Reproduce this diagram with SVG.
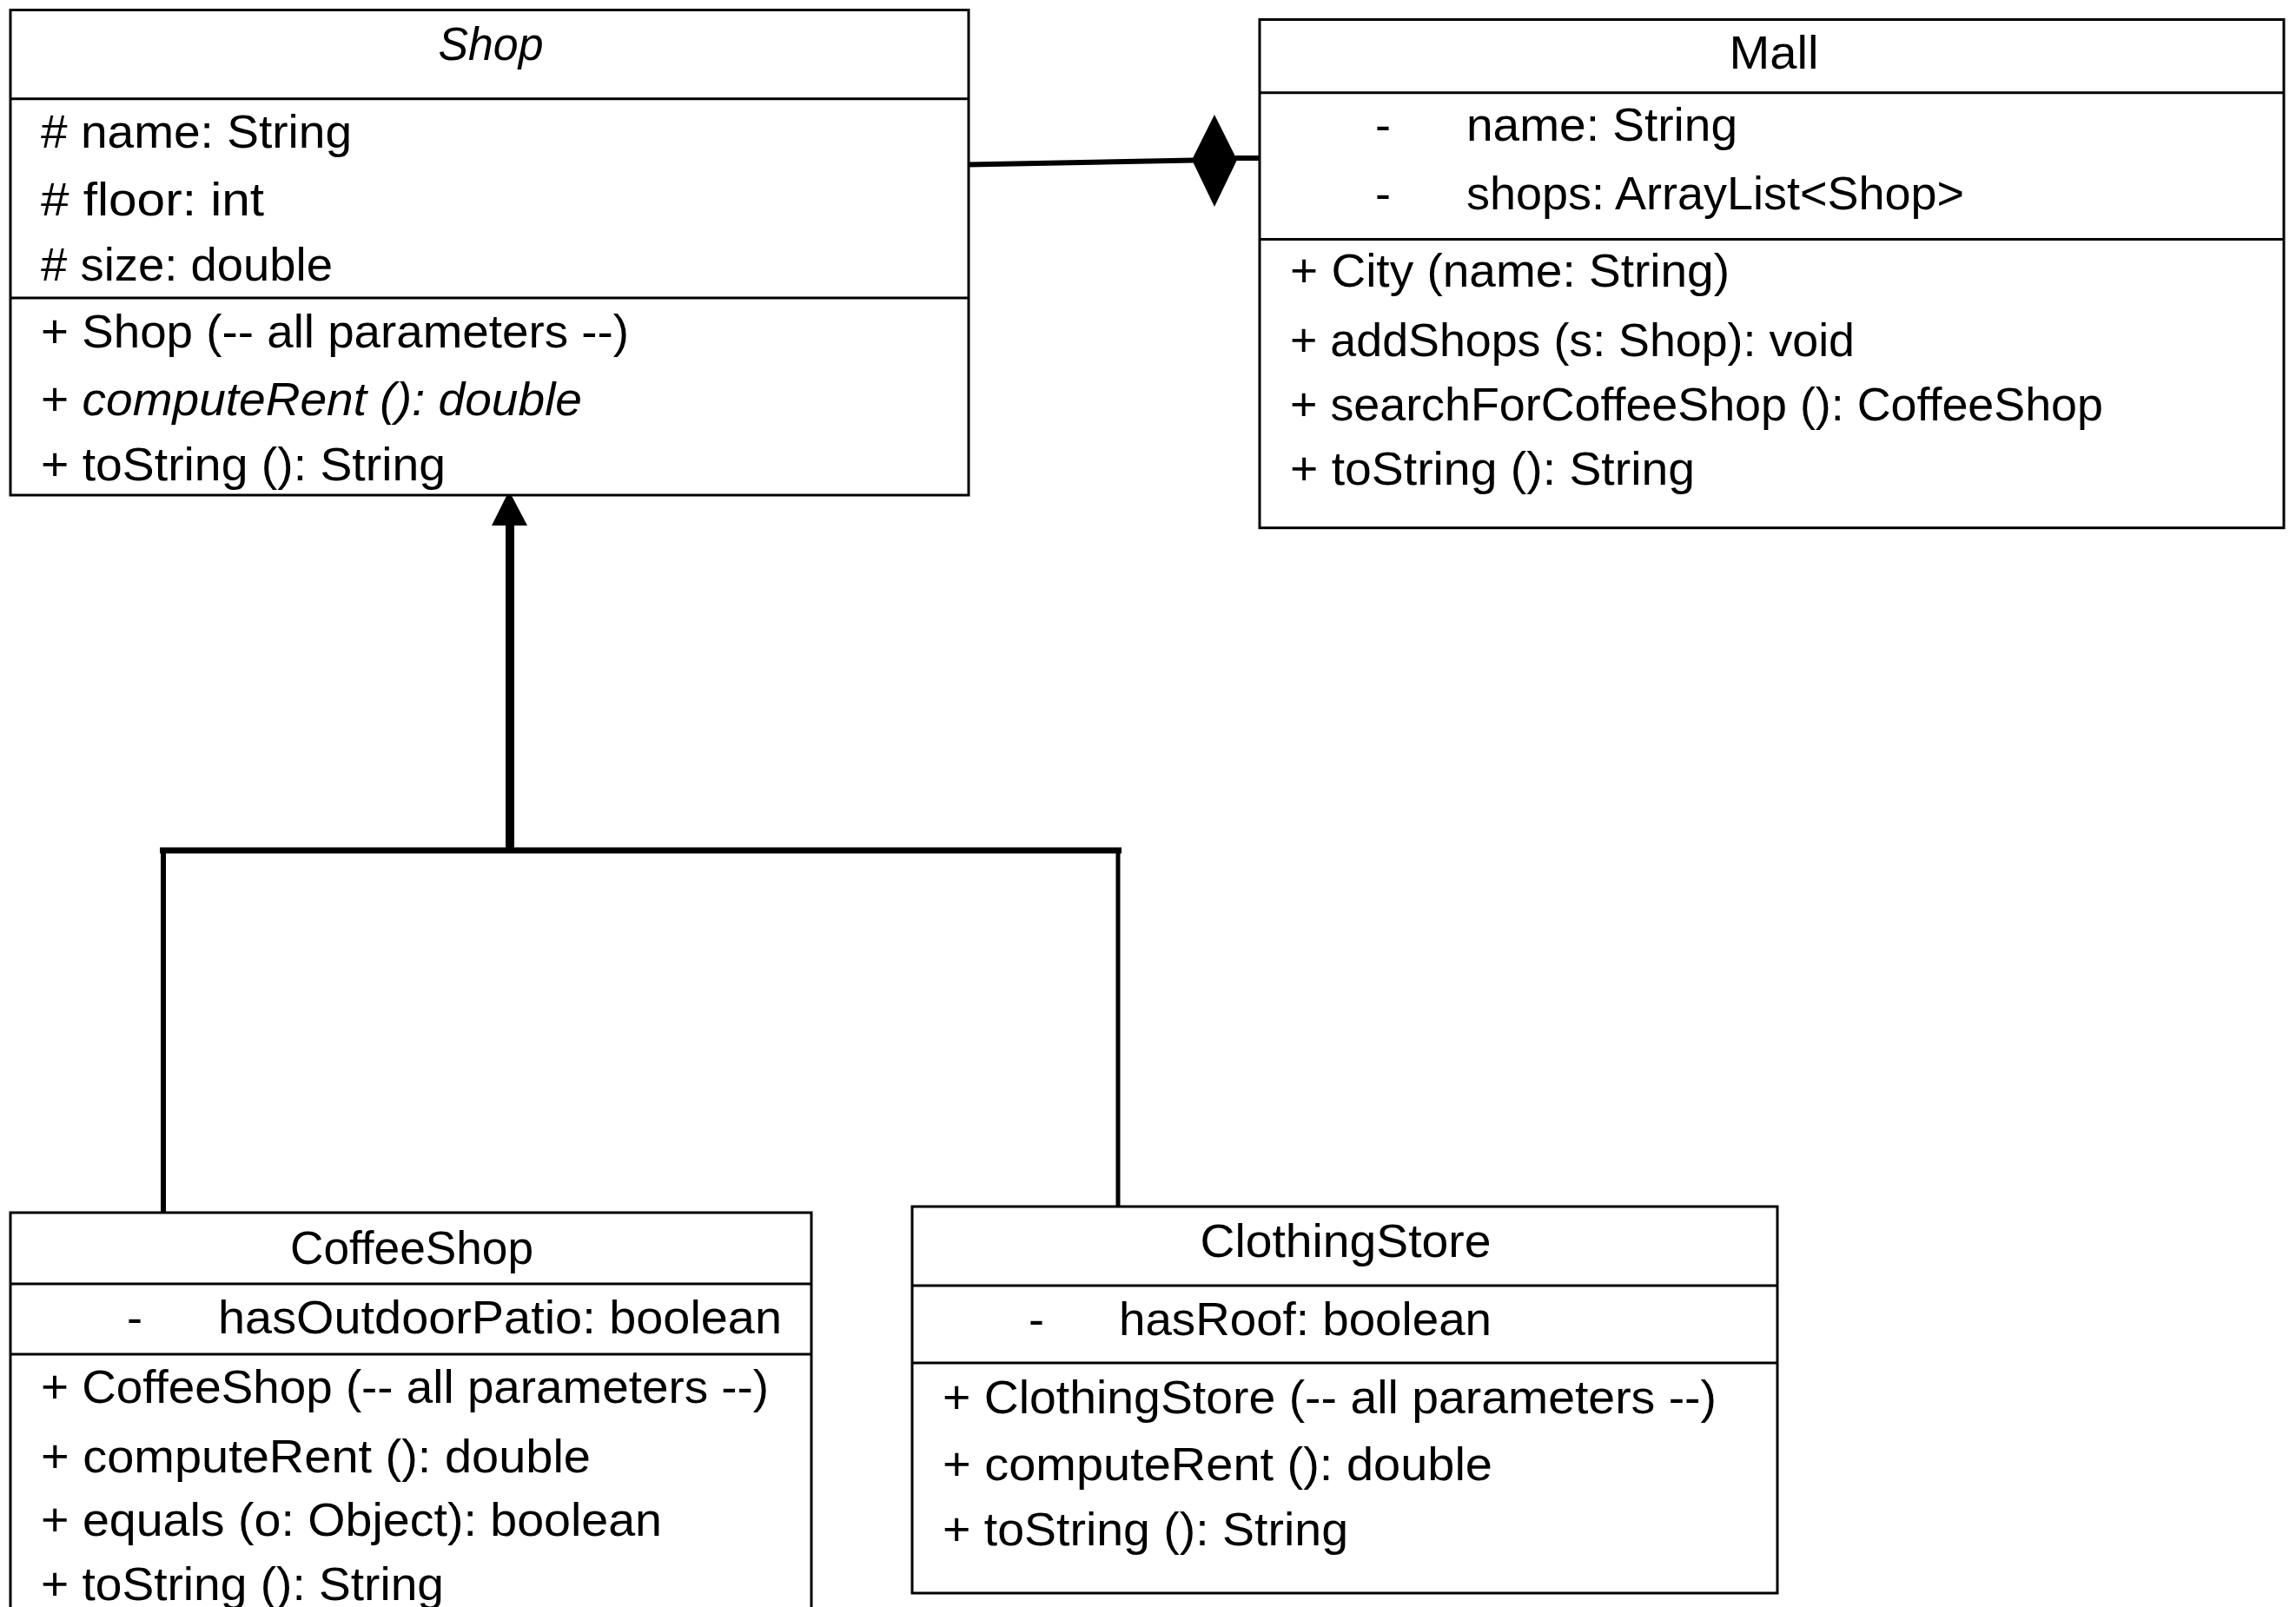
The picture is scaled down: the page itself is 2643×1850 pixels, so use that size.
<svg xmlns="http://www.w3.org/2000/svg" width="2643" height="1850" viewBox="0 0 2643 1850">
<style>
  .box { fill: #ffffff; stroke: #000000; stroke-width: 3; }
  .sep { stroke: #000000; stroke-width: 3; }
  text { font-family: "Liberation Sans", Arial, sans-serif; font-size: 54px; fill: #000000; }
  .title { text-anchor: middle; }
  .it { font-style: italic; }
  .conn { fill: none; stroke: #000000; stroke-linecap: butt; }
</style>
<rect x="0" y="0" width="2643" height="1850" fill="#ffffff"/>

<g id="connectors">
  <!-- composition Shop - Mall -->
  <line class="conn" x1="1115" y1="189.5" x2="1374" y2="184.5" stroke-width="6"/>
  <polygon points="1372,184 1398,132 1424,184 1398,238" fill="#000000"/>
  <line class="conn" x1="1422" y1="182" x2="1450" y2="182" stroke-width="6"/>
  <!-- inheritance -->
  <polygon points="586,565 566,605 607,605" fill="#000000"/>
  <line class="conn" x1="587" y1="603" x2="587" y2="982" stroke-width="10"/>
  <line class="conn" x1="184" y1="979" x2="1291" y2="979" stroke-width="7"/>
  <line class="conn" x1="188" y1="979" x2="188" y2="1396" stroke-width="6"/>
  <line class="conn" x1="1287" y1="979" x2="1287" y2="1389" stroke-width="5"/>
</g>

<g id="Shop">
  <rect class="box" x="12" y="11.5" width="1103" height="558.5"/>
  <line class="sep" x1="12" y1="113.7" x2="1115" y2="113.7"/>
  <line class="sep" x1="12" y1="343" x2="1115" y2="343"/>
  <text class="title it" x="565" y="69" textLength="121" lengthAdjust="spacingAndGlyphs">Shop</text>
  <text x="47" y="170" textLength="358" lengthAdjust="spacingAndGlyphs"># name: String</text>
  <text x="47" y="248" textLength="257" lengthAdjust="spacingAndGlyphs"># floor: int</text>
  <text x="47" y="323" textLength="336" lengthAdjust="spacingAndGlyphs"># size: double</text>
  <text x="47" y="400" textLength="677" lengthAdjust="spacingAndGlyphs">+ Shop (-- all parameters --)</text>
  <text x="47" y="478" textLength="623" lengthAdjust="spacingAndGlyphs">+ <tspan class="it">computeRent (): double</tspan></text>
  <text x="47" y="553" textLength="466" lengthAdjust="spacingAndGlyphs">+ toString (): String</text>
</g>

<g id="Mall">
  <rect class="box" x="1450" y="22.5" width="1179" height="585.2"/>
  <line class="sep" x1="1450" y1="106.8" x2="2629" y2="106.8"/>
  <line class="sep" x1="1450" y1="275.6" x2="2629" y2="275.6"/>
  <text class="title" x="2042" y="79" textLength="103" lengthAdjust="spacingAndGlyphs">Mall</text>
  <text x="1583" y="162">-</text>
  <text x="1688" y="162" textLength="312" lengthAdjust="spacingAndGlyphs">name: String</text>
  <text x="1583" y="241">-</text>
  <text x="1688" y="241" textLength="573" lengthAdjust="spacingAndGlyphs">shops: ArrayList&lt;Shop&gt;</text>
  <text x="1485" y="330" textLength="506" lengthAdjust="spacingAndGlyphs">+ City (name: String)</text>
  <text x="1485" y="410" textLength="650" lengthAdjust="spacingAndGlyphs">+ addShops (s: Shop): void</text>
  <text x="1485" y="484" textLength="936" lengthAdjust="spacingAndGlyphs">+ searchForCoffeeShop (): CoffeeShop</text>
  <text x="1485" y="558" textLength="466" lengthAdjust="spacingAndGlyphs">+ toString (): String</text>
</g>

<g id="CoffeeShop">
  <rect class="box" x="12" y="1396" width="922" height="480"/>
  <line class="sep" x1="12" y1="1478" x2="934" y2="1478"/>
  <line class="sep" x1="12" y1="1559" x2="934" y2="1559"/>
  <text class="title" x="474" y="1455" textLength="280" lengthAdjust="spacingAndGlyphs">CoffeeShop</text>
  <text x="146" y="1535">-</text>
  <text x="251" y="1535" textLength="649" lengthAdjust="spacingAndGlyphs">hasOutdoorPatio: boolean</text>
  <text x="47" y="1615" textLength="838" lengthAdjust="spacingAndGlyphs">+ CoffeeShop (-- all parameters --)</text>
  <text x="47" y="1695" textLength="633" lengthAdjust="spacingAndGlyphs">+ computeRent (): double</text>
  <text x="47" y="1768" textLength="715" lengthAdjust="spacingAndGlyphs">+ equals (o: Object): boolean</text>
  <text x="47" y="1842" textLength="464" lengthAdjust="spacingAndGlyphs">+ toString (): String</text>
</g>

<g id="ClothingStore">
  <rect class="box" x="1050" y="1389" width="996" height="445"/>
  <line class="sep" x1="1050" y1="1480" x2="2046" y2="1480"/>
  <line class="sep" x1="1050" y1="1569" x2="2046" y2="1569"/>
  <text class="title" x="1549" y="1447" textLength="335" lengthAdjust="spacingAndGlyphs">ClothingStore</text>
  <text x="1184" y="1537">-</text>
  <text x="1288" y="1537" textLength="429" lengthAdjust="spacingAndGlyphs">hasRoof: boolean</text>
  <text x="1085" y="1627" textLength="891" lengthAdjust="spacingAndGlyphs">+ ClothingStore (-- all parameters --)</text>
  <text x="1085" y="1704" textLength="633" lengthAdjust="spacingAndGlyphs">+ computeRent (): double</text>
  <text x="1085" y="1779" textLength="467" lengthAdjust="spacingAndGlyphs">+ toString (): String</text>
</g>
</svg>
